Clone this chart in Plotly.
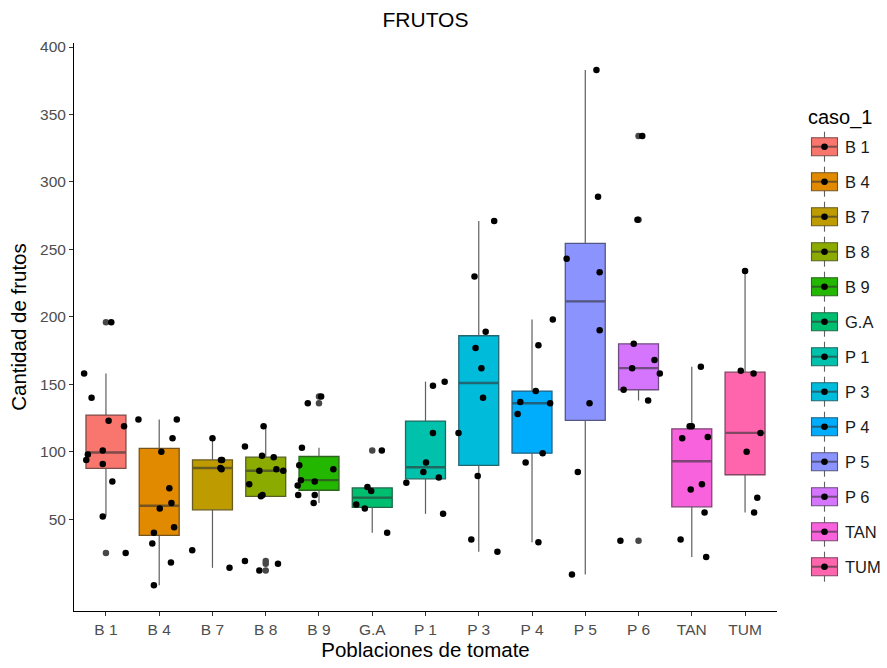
import numpy as np
import plotly.graph_objects as go

# ---------------- data ----------------
categories = ["B 1", "B 4", "B 7", "B 8", "B 9", "G.A", "P 1", "P 3", "P 4", "P 5", "P 6", "TAN", "TUM"]
colors = ["#F8766D", "#E18A00", "#BE9C00", "#8CAB00", "#24B700", "#00BE70", "#00C1AB",
          "#00BBDA", "#00ACFC", "#8B93FF", "#D575FE", "#F962DD", "#FF65AC"]

frutos_B1 = [158, 140, 196, 123, 119, 98, 94, 101, 91, 78, 52, 25]
frutos_B4 = [124, 124, 110, 100, 73, 62, 58, 44, 40, 32, 18, 1]
frutos_B7 = [14, 27, 87, 88, 94, 94, 110]
frutos_B8 = [104, 119, 97, 96, 86, 87, 86, 76, 68, 67, 19, 17, 12]
frutos_B9 = [136, 141, 103, 90, 87, 79, 78, 75, 68, 68, 62]
frutos_GA = [101, 74, 71, 61, 58, 40]
frutos_P1 = [149, 152, 114, 92, 85, 81, 77, 54]
frutos_P3 = [271, 230, 189, 177, 162, 140, 114, 82, 35, 26]
frutos_P4 = [198, 179, 145, 137, 136, 128, 99, 92, 33]
frutos_P5 = [383, 289, 243, 233, 190, 136, 85, 9]
frutos_P6 = [334, 272, 180, 168, 162, 158, 146, 138, 34]
frutos_TAN = [163, 119, 119, 110, 111, 76, 72, 55, 35, 22]
frutos_TUM = [234, 160, 158, 114, 100, 66, 55]

# horizontal jitter of each point (category units)
jitter_B1 = [-0.41, -0.27, 0.10, 0.05, 0.34, -0.34, -0.37, -0.06, -0.06, 0.12, -0.06, 0.37]
jitter_B4 = [-0.39, 0.33, 0.25, 0.04, 0.19, 0.23, 0.01, 0.28, -0.10, -0.13, 0.22, -0.10]
jitter_B7 = [0.32, -0.38, 0.17, 0.15, 0.16, 0.18, 0.00]
jitter_B8 = [-0.39, -0.04, -0.07, 0.15, -0.12, 0.20, 0.33, -0.31, -0.06, -0.09, -0.39, 0.23, -0.12]
jitter_B9 = [-0.21, 0.04, -0.32, -0.37, 0.27, -0.34, -0.08, -0.40, -0.39, -0.08, -0.10]
jitter_GA = [0.18, -0.09, -0.02, -0.30, -0.14, 0.28]
jitter_P1 = [0.14, 0.36, 0.14, 0.01, -0.04, 0.25, -0.36, 0.33]
jitter_P3 = [0.29, -0.08, 0.13, -0.06, 0.05, 0.08, -0.38, -0.02, -0.14, 0.35]
jitter_P4 = [0.39, 0.12, 0.07, -0.22, 0.34, -0.27, 0.20, -0.12, 0.12]
jitter_P5 = [0.21, 0.24, -0.35, 0.27, 0.27, 0.08, -0.14, -0.25]
jitter_P6 = [0.07, -0.02, -0.09, 0.30, -0.12, 0.40, -0.28, 0.18, -0.34]
jitter_TAN = [0.17, -0.04, 0.00, -0.18, 0.30, 0.19, -0.02, 0.24, -0.21, 0.27]
jitter_TUM = [0.00, -0.08, 0.16, 0.29, 0.03, 0.23, 0.17]

y_ticks = [50, 100, 150, 200, 250, 300, 350, 400]

values = [frutos_B1, frutos_B4, frutos_B7, frutos_B8, frutos_B9, frutos_GA, frutos_P1,
          frutos_P3, frutos_P4, frutos_P5, frutos_P6, frutos_TAN, frutos_TUM]
jitters = [jitter_B1, jitter_B4, jitter_B7, jitter_B8, jitter_B9, jitter_GA, jitter_P1,
           jitter_P3, jitter_P4, jitter_P5, jitter_P6, jitter_TAN, jitter_TUM]

# ---------------- helpers ----------------
FONT = "Liberation Sans, Arial, sans-serif"
BOXW = 0.75


def edge_color(hexcol, k=0.62):
    r, g, b = int(hexcol[1:3], 16), int(hexcol[3:5], 16), int(hexcol[5:7], 16)
    mix = lambda c: int(round(k * 51 + (1 - k) * c))
    return "#%02X%02X%02X" % (mix(r), mix(g), mix(b))


def box_stats(v):
    a = np.asarray(v, dtype=float)
    q1, med, q3 = np.percentile(a, [25, 50, 75])
    iqr = q3 - q1
    lo_f, hi_f = q1 - 1.5 * iqr, q3 + 1.5 * iqr
    lo = a[a >= lo_f].min()
    hi = a[a <= hi_f].max()
    out = a[(a < lo_f) | (a > hi_f)]
    return q1, med, q3, lo, hi, out


fig = go.Figure()

wx, wy = [], []
out_x, out_y = [], []
for i, (cat, v, col) in enumerate(zip(categories, values, colors)):
    q1, med, q3, lo, hi, out = box_stats(v)
    ec = edge_color(col)
    fig.add_trace(go.Box(
        x=[i], q1=[q1], median=[med], q3=[q3], lowerfence=[q1], upperfence=[q3],
        width=BOXW, fillcolor=col, line=dict(color=ec, width=1.3),
        boxpoints=False, showlegend=False, hoverinfo="skip", name=cat))
    fig.add_trace(go.Scatter(
        x=[i - BOXW / 2, i + BOXW / 2], y=[med, med], mode="lines",
        line=dict(color=ec, width=2.4), showlegend=False, hoverinfo="skip"))
    wx += [i, i, None, i, i, None]
    wy += [q3, hi, None, q1, lo, None]
    out_x += [i] * len(out)
    out_y += list(out)

fig.add_trace(go.Scatter(x=wx, y=wy, mode="lines", line=dict(color="#5f5f5f", width=1.2),
                         showlegend=False, hoverinfo="skip"))
fig.add_trace(go.Scatter(x=out_x, y=out_y, mode="markers",
                         marker=dict(color="#474747", size=6.5), showlegend=False, hoverinfo="skip"))

px_, py_ = [], []
for i, (v, j) in enumerate(zip(values, jitters)):
    px_ += [i + d for d in j]
    py_ += list(v)
fig.add_trace(go.Scatter(x=px_, y=py_, mode="markers",
                         marker=dict(color="black", size=6.5), showlegend=False, hoverinfo="skip"))

# ---------------- layout ----------------
W, H = 887, 668
ML, MR, MT, MB = 74, 110, 43, 57
PW, PH = W - ML - MR, H - MT - MB


def xp(px):
    return (px - ML) / PW


def yp(py):
    return (H - MB - py) / PH


axis_common = dict(showline=True, linecolor="black", linewidth=1, mirror=False,
                   ticks="outside", ticklen=4, tickcolor="#333333", tickwidth=1,
                   showgrid=False, zeroline=False,
                   tickfont=dict(family=FONT, size=15.5, color="#4D4D4D"))

fig.update_layout(
    width=W, height=H,
    margin=dict(l=ML, r=MR, t=MT, b=MB, pad=0),
    paper_bgcolor="white", plot_bgcolor="white",
    font=dict(family=FONT, color="black"),
    title=dict(text="FRUTOS", x=0.5, xref="paper", xanchor="center",
               y=1 - 20 / H, yref="container", yanchor="middle",
               font=dict(family=FONT, size=21, color="black")),
    xaxis=dict(range=[-0.6, 12.6], tickmode="array", tickvals=list(range(len(categories))),
               ticktext=categories,
               title=dict(text="Poblaciones de tomate", font=dict(family=FONT, size=20.5, color="black"),
                          standoff=3),
               **axis_common),
    yaxis=dict(range=[-18, 403], tickmode="array", tickvals=y_ticks,
               ticktext=[str(t) for t in y_ticks],
               title=dict(text="Cantidad de frutos", font=dict(family=FONT, size=20.5, color="black"),
                          standoff=7),
               **axis_common),
    showlegend=False,
)

# ---------------- manual ggplot-style legend ----------------
shapes, annotations = [], []
annotations.append(dict(text="caso_1", x=xp(806), y=yp(117), xref="paper", yref="paper",
                        xanchor="left", yanchor="middle", showarrow=False,
                        font=dict(family=FONT, size=20, color="black")))
for i, (cat, col) in enumerate(zip(categories, colors)):
    cy = 146.7 + 35 * i
    ec = edge_color(col)
    cx = 824.5
    shapes.append(dict(type="line", xref="paper", yref="paper", x0=xp(cx), x1=xp(cx),
                       y0=yp(cy - 15), y1=yp(cy + 15), line=dict(color="#5f5f5f", width=1.1)))
    shapes.append(dict(type="rect", xref="paper", yref="paper", x0=xp(811.5), x1=xp(837.5),
                       y0=yp(cy - 9), y1=yp(cy + 9), fillcolor=col, line=dict(color=ec, width=1.1)))
    shapes.append(dict(type="line", xref="paper", yref="paper", x0=xp(811.5), x1=xp(837.5),
                       y0=yp(cy), y1=yp(cy), line=dict(color=ec, width=2)))
    r = 3.3
    shapes.append(dict(type="circle", xref="paper", yref="paper", x0=xp(cx - r), x1=xp(cx + r),
                       y0=yp(cy - r), y1=yp(cy + r), fillcolor="black", line=dict(color="black", width=0)))
    annotations.append(dict(text=cat, x=xp(843), y=yp(cy), xref="paper", yref="paper",
                            xanchor="left", yanchor="middle", showarrow=False,
                            font=dict(family=FONT, size=16.5, color="#1a1a1a")))

fig.update_layout(shapes=shapes, annotations=annotations)

fig.write_html("out.html", config={"displayModeBar": False})
